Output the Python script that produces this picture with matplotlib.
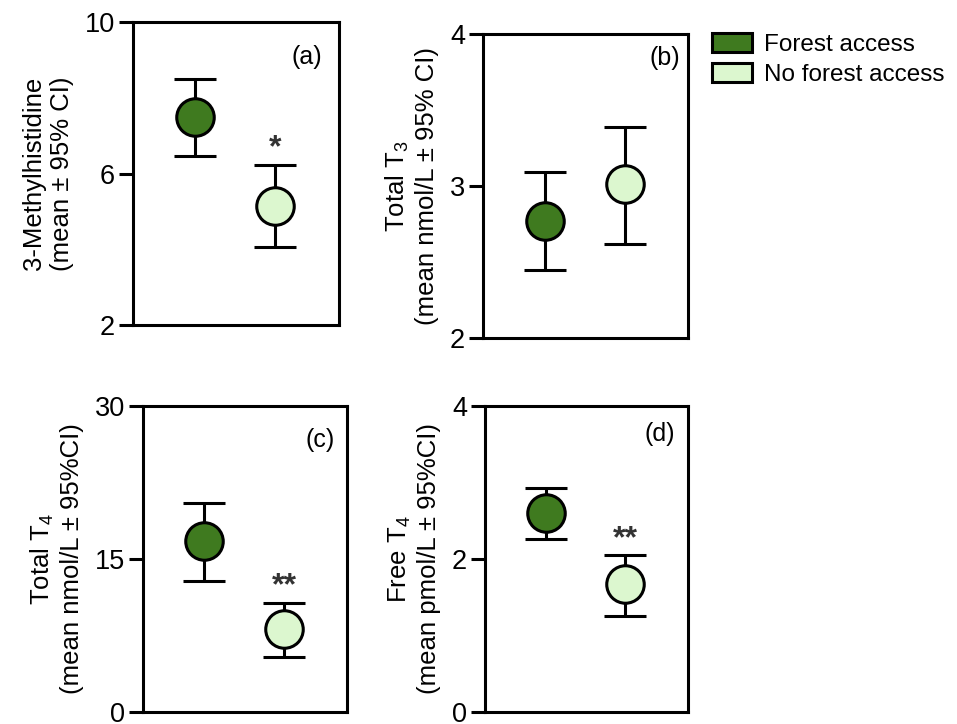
import matplotlib
matplotlib.use("Agg")
import matplotlib.pyplot as plt
from matplotlib.patches import Patch

plt.rcParams['font.family'] = ['Liberation Sans', 'DejaVu Sans']
plt.rcParams['mathtext.fontset'] = 'custom'
plt.rcParams['mathtext.rm'] = 'Liberation Sans'
plt.rcParams['mathtext.it'] = 'Liberation Sans'

groups = ["Forest access", "No forest access"]
colors = ["#3f7a1f", "#dcf7cf"]

# panel data: means, lower CI, upper CI
a_mean = [7.5, 5.15]
a_low = [6.45, 4.05]
a_high = [8.5, 6.23]

b_mean = [2.77, 3.01]
b_low = [2.45, 2.62]
b_high = [3.09, 3.39]

c_mean = [16.8, 8.1]
c_low = [12.8, 5.4]
c_high = [20.5, 10.7]

d_mean = [2.60, 1.67]
d_low = [2.26, 1.25]
d_high = [2.93, 2.05]

panels = [
    dict(mean=a_mean, low=a_low, high=a_high, ylim=(2, 10), yticks=[2, 6, 10],
         ylabel="3-Methylhistidine\n(mean ± 95% CI)", tag="(a)", star="*",
         rect=[133/957, 1-325/724, 206/957, 303/724], tagpos=(0.92, 0.885)),
    dict(mean=b_mean, low=b_low, high=b_high, ylim=(2, 4), yticks=[2, 3, 4],
         ylabel="Total T$_3$\n(mean nmol/L ± 95% CI)", tag="(b)", star=None,
         rect=[483/957, 1-338/724, 205/957, 304/724], tagpos=(0.96, 0.92)),
    dict(mean=c_mean, low=c_low, high=c_high, ylim=(0, 30), yticks=[0, 15, 30],
         ylabel="Total T$_4$\n(mean nmol/L ± 95%CI)", tag="(c)", star="**",
         rect=[143/957, 1-712/724, 204/957, 306/724], tagpos=(0.94, 0.89)),
    dict(mean=d_mean, low=d_low, high=d_high, ylim=(0, 4), yticks=[0, 2, 4],
         ylabel="Free T$_4$\n(mean pmol/L ± 95%CI)", tag="(d)", star="**",
         rect=[485/957, 1-712/724, 203/957, 306/724], tagpos=(0.935, 0.91)),
]

fig = plt.figure(figsize=(9.57, 7.24), dpi=100)
xs = [1, 2]
for p in panels:
    ax = fig.add_axes(p["rect"])
    for i in range(2):
        m = p["mean"][i]
        err = [[m - p["low"][i]], [p["high"][i] - m]]
        ax.errorbar([xs[i]], [m], yerr=err, fmt='o', color='black',
                    ecolor='black', elinewidth=2.2, capsize=15, capthick=2.2,
                    markersize=27, markerfacecolor=colors[i],
                    markeredgecolor='black', markeredgewidth=2.2, zorder=3)
    if p["star"]:
        ax.annotate(p["star"], xy=(xs[1], p["high"][1]), xytext=(0, 1),
                    textcoords='offset points', ha='center', va='bottom',
                    fontsize=23, fontweight='bold', color='#333333')
    ax.set_xlim(0.23, 2.79)
    ax.set_ylim(*p["ylim"])
    ax.set_yticks(p["yticks"])
    ax.set_xticks([])
    ax.tick_params(axis='y', direction='out', length=10, width=2.2,
                   labelsize=19.5, pad=3)
    for s in ax.spines.values():
        s.set_linewidth(2.2)
    ax.set_ylabel(p["ylabel"], fontsize=18.5, labelpad=8, linespacing=1.2)
    ax.text(p["tagpos"][0], p["tagpos"][1], p["tag"], transform=ax.transAxes,
            ha='right', va='center', fontsize=18)

handles = [Patch(facecolor=colors[i], edgecolor='black', linewidth=2.2,
                 label=groups[i]) for i in range(2)]
fig.legend(handles=handles, loc='upper left',
           bbox_to_anchor=(712/957, 1-33/724), frameon=False,
           fontsize=17.5, handlelength=1.65, handleheight=0.8,
           handletextpad=0.5, labelspacing=0.3, borderpad=0,
           borderaxespad=0)

fig.savefig("out.png", dpi=100)
